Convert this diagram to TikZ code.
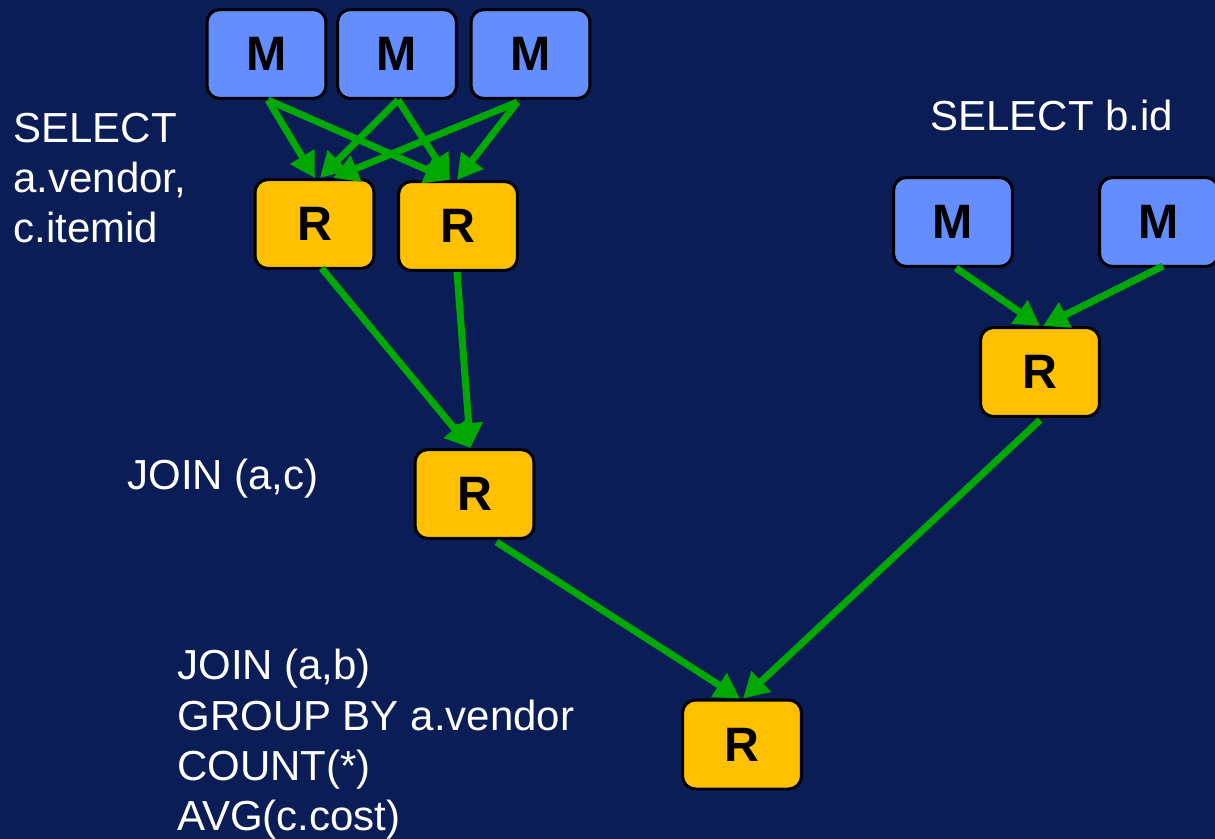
\documentclass[tikz,border=0pt]{standalone}
\usepackage{fontspec}
\setmainfont{Liberation Sans}
\usetikzlibrary{arrows.meta,calc}

\definecolor{navy}{RGB}{10,29,86}
\definecolor{mapblue}{RGB}{100,141,255}
\definecolor{redyellow}{RGB}{255,192,0}
\definecolor{flowgreen}{RGB}{0,168,0}

\begin{document}
\begin{tikzpicture}[x=0.02cm,y=-0.02cm,
  task/.style={draw=black,line width=0.06cm,rounded corners=0.26cm,
    minimum width=2.38cm,minimum height=1.78cm,inner sep=0pt,
    font=\fontsize{27.5pt}{30pt}\selectfont\bfseries,text=black},
  mapper/.style={task,fill=mapblue},
  reducer/.style={task,fill=redyellow},
  flow/.style={draw=flowgreen,line width=0.14cm,
    -{Triangle[length=0.5cm,width=0.54cm]}},
  label/.style={anchor=base west,inner sep=0pt,text=white,
    font=\fontsize{23.9pt}{28pt}\selectfont}]

  % canvas
  \fill[navy] (0,0) rectangle (1215,839);
  \useasboundingbox (0,0) rectangle (1215,839);

  % map tasks
  \node[mapper] (m1) at (266.5,54) {M};
  \node[mapper] (m2) at (397,54) {M};
  \node[mapper] (m3) at (530.5,54) {M};
  \node[mapper] (m4) at (953,222) {M};
  \node[mapper] (m5) at (1159,222) {M};

  % reduce tasks
  \node[reducer] (r1) at (314.5,224) {R};
  \node[reducer] (r2) at (458,226) {R};
  \node[reducer] (r3) at (1040,372) {R};
  \node[reducer] (r4) at (474.5,494) {R};
  \node[reducer] (r5) at (742,744.5) {R};

  % shuffle between the first three mappers and two reducers
  \draw[flow] ($(m1.south)+(1.5,0)$) -- ($(r1.north)+(0.5,0)$);
  \draw[flow] ($(m1.south)+(1.5,0)$) -- ($(r2.north)+(-8,0)$);
  \draw[flow] ($(m2.south)+(1,0)$) -- ($(r1.north)+(5.5,0)$);
  \draw[flow] ($(m2.south)+(1,0)$) -- ($(r2.north)+(-8,0)$);
  \draw[flow] ($(m3.south)+(-13,2)$) -- ($(r1.north)+(18.5,0)$);
  \draw[flow] ($(m3.south)+(-13,2)$) -- ($(r2.north)+(-1,0)$);

  % second branch
  \draw[flow] ($(m4.south)+(3,0)$) -- ($(r3.north)+(0,0)$);
  \draw[flow] ($(m5.south)+(4,-2)$) -- ($(r3.north)+(3,0)$);

  % joins
  \draw[flow] ($(r1.south)+(7,-2)$) -- ($(r4.north)+(-4,0)$);
  \draw[flow] ($(r2.south)+(-1,0)$) -- ($(r4.north)+(-4,0)$);
  \draw[flow] ($(r4.south)+(22,2)$) -- ($(r5.north)+(-2,0)$);
  \draw[flow] ($(r3.south)+(0,2)$) -- ($(r5.north)+(1,0)$);

  % query annotations
  \node[label] (sel1) at (13,142) {SELECT};
  \node[label] (sel2) at (13,192) {a.vendor,};
  \node[label] (sel3) at (13,242) {c.itemid};
  \node[label] (selb) at (930,130) {SELECT b.id};
  \node[label] (join1) at (127,489) {JOIN (a,c)};
  \node[label] (agg1) at (177,679) {JOIN (a,b)};
  \node[label] (agg2) at (177,730) {GROUP BY a.vendor};
  \node[label] (agg3) at (177,780) {COUNT(*)};
  \node[label] (agg4) at (177,830) {AVG(c.cost)};
\end{tikzpicture}
\end{document}
